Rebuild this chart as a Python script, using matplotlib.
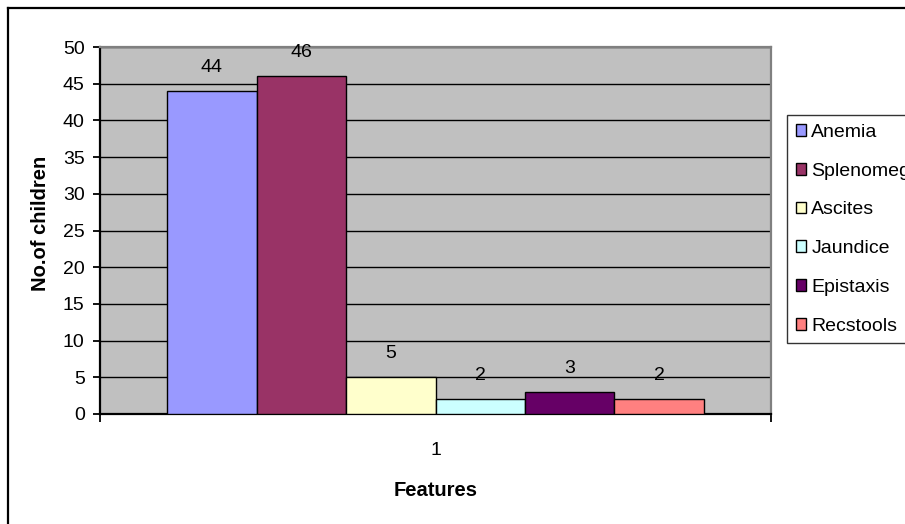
import matplotlib
matplotlib.use("Agg")
import matplotlib.pyplot as plt
from matplotlib.lines import Line2D
from matplotlib.patches import Patch

# ---- data ----
categories = ["1"]
series_names = ["Anemia", "Splenomegaly", "Ascites", "Jaundice", "Epistaxis", "Recstools"]
series_values = [44, 46, 5, 2, 3, 2]
series_colors = ["#9999FF", "#993366", "#FFFFCC", "#CCFFFF", "#660066", "#FF8080"]
y_ticks = [0, 5, 10, 15, 20, 25, 30, 35, 40, 45, 50]

plt.rcParams['font.family'] = ['Liberation Sans', 'DejaVu Sans']
FS = 14

W, H = 905, 524
fig = plt.figure(figsize=(W / 100, H / 100), dpi=100)
fig.patch.set_facecolor("white")

L, R, T, B = 100, 771, 47, 414
ax = fig.add_axes([L / W, 1 - B / H, (R - L) / W, (B - T) / H])
ax.set_facecolor("#C0C0C0")

n = len(series_values)
group_w = 0.8
bw = group_w / n
for i, (name, v, c) in enumerate(zip(series_names, series_values, series_colors)):
    x = -group_w / 2 + bw * (i + 0.5)
    ax.bar(x, v, width=bw, color=c, edgecolor="black", linewidth=1.0, zorder=3, label=name)
    ax.annotate(str(v), (x, v), xytext=(0, 17), textcoords="offset points",
                ha="center", va="center", fontsize=FS, color="black", zorder=4)

ax.set_xlim(-0.5, 0.5)
ax.set_ylim(0, 50)
ax.set_yticks(y_ticks)
ax.set_yticklabels([str(t) for t in y_ticks])
ax.yaxis.grid(True, color="black", linewidth=1.0)
ax.set_axisbelow(True)

ax.set_xticks([-0.5, 0.5])
ax.set_xticklabels(["", ""])
ax.set_xticks([0], minor=True)
ax.set_xticklabels(categories, minor=True)
ax.tick_params(axis="x", which="major", direction="out", length=6, width=1.3, color="black")
ax.tick_params(axis="x", which="minor", length=0, pad=20, labelsize=FS)
ax.tick_params(axis="y", direction="out", length=5, width=1.3, pad=6, labelsize=FS)

for s in ["left", "bottom"]:
    ax.spines[s].set_color("black")
    ax.spines[s].set_linewidth(1.6)
for s in ["top", "right"]:
    ax.spines[s].set_color("#808080")
    ax.spines[s].set_linewidth(1.6)

fig.text(40 / W, 1 - 223 / H, "No.of children", rotation=90, ha="center", va="center",
         fontsize=14.5, fontweight="bold")
fig.text(436 / W, 1 - 491 / H, "Features", ha="center", va="center",
         fontsize=14.5, fontweight="bold")

# outer chart border (top and left visible)
fig.add_artist(Line2D([8 / W, 1.0], [1 - 8 / H, 1 - 8 / H], transform=fig.transFigure,
                      color="black", linewidth=1.6))
fig.add_artist(Line2D([8 / W, 8 / W], [1 - 8 / H, 0.0], transform=fig.transFigure,
                      color="black", linewidth=1.6))

handles = [Patch(facecolor=c, edgecolor="black", linewidth=1.0) for c in series_colors]
leg = fig.legend(handles, series_names, loc="upper left",
                 bbox_to_anchor=(787 / W, 1 - 115 / H), bbox_transform=fig.transFigure,
                 fontsize=FS, frameon=True, fancybox=False, shadow=False,
                 handlelength=0.55, handleheight=0.55, handletextpad=0.25,
                 labelspacing=1.12, borderpad=0.45, borderaxespad=0.0)
leg.get_frame().set_edgecolor("black")
leg.get_frame().set_linewidth(1.0)

fig.savefig("out.png", dpi=100)
